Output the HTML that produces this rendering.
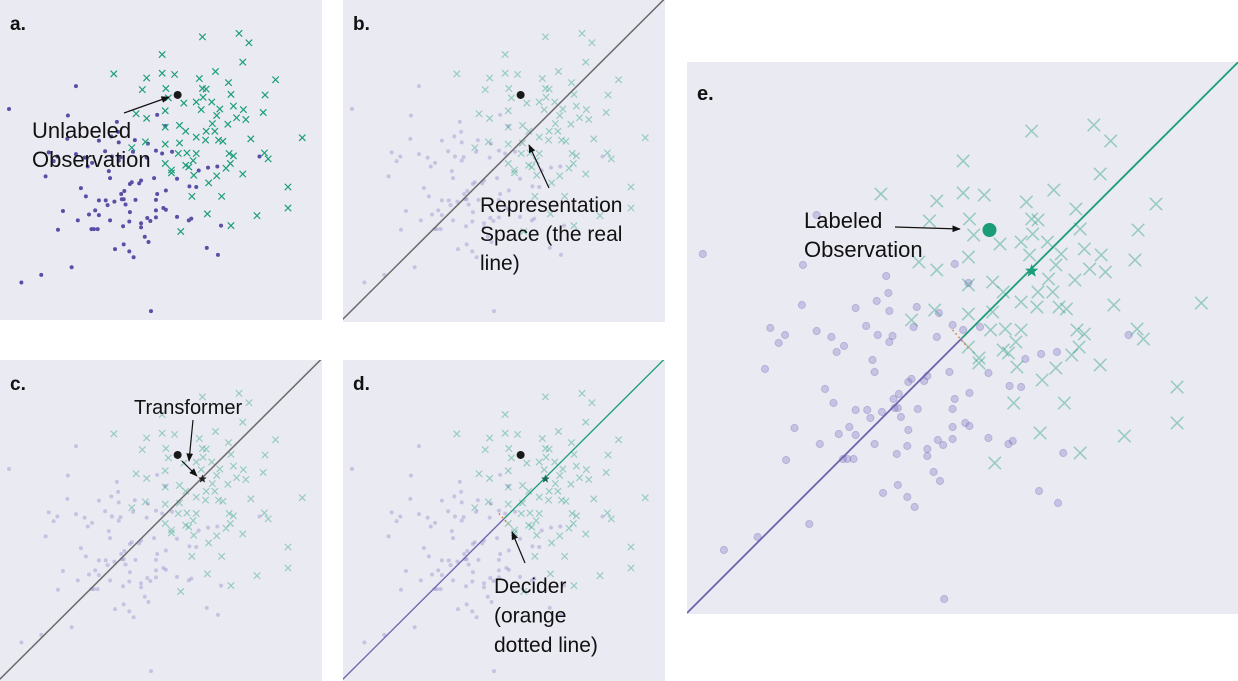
<!DOCTYPE html>
<html><head><meta charset="utf-8">
<style>
html,body{margin:0;padding:0;background:#fff;}
svg{display:block;font-family:"Liberation Sans",Arial,sans-serif;}
</style></head>
<body>
<svg id="fig" width="1238" height="681" viewBox="0 0 1238 681" xmlns="http://www.w3.org/2000/svg">
<defs>
<marker id="ah" viewBox="0 0 10 10" refX="9" refY="5" markerWidth="7" markerHeight="7" orient="auto-start-reverse"><path d="M0,1 L10,5 L0,9 z" fill="#111"/></marker>
</defs>
</svg>
<script>
// data in reference units (panel-e measurement space)
const classAX = [15,110,189,254,267,191,109,160,180,192,218,239,79,93,123,137,170,181,195,215,237,252,262,278,123,87,149,142,192,74,176,178,249,286,321,336,351,419,306,317,210,213,225,228,131,268,201,196,254,139,160,171,185,197,200,219,252,174,203,102,154,210,252,264,268,144,160,238,252,243,286,305,309,126,178,209,228,228,199,94,148,152,158,357,234,240,200,186,209,216,334,352,116,67,35,244];
const classAY = [192,203,214,202,221,231,243,246,239,249,245,251,266,273,269,275,264,273,274,265,275,263,268,265,153,281,284,290,280,307,298,310,310,311,297,292,290,273,324,325,320,317,319,314,327,331,332,337,337,341,348,348,350,346,346,347,347,356,355,366,365,368,365,361,364,372,373,378,377,383,376,382,379,382,382,384,387,394,392,398,397,397,397,391,410,419,423,431,435,445,429,441,462,475,488,537];
const classBX = [327,386,402,262,392,184,262,282,237,322,348,445,369,230,268,327,333,373,428,272,297,317,328,342,220,267,325,355,377,393,425,237,350,382,397,267,290,343,368,300,333,347,317,332,353,360,405,488,235,213,267,290,288,302,317,370,377,427,433,267,277,277,300,305,312,313,350,365,372,392,337,310,358,465,465,335,415,373,292];
const classBY = [69,63,79,99,112,132,131,133,139,140,128,142,147,159,157,157,158,167,168,173,182,180,172,180,200,195,193,192,187,193,198,208,203,207,210,223,220,217,218,230,230,230,240,245,245,247,243,241,248,258,252,250,268,267,268,268,272,267,277,285,296,301,288,291,280,305,306,293,285,303,318,341,341,325,361,371,374,391,401];
const queryPoint = [287,168];
const transformedPoint = [327,209];
const lineStart = [0,551];
const lineEnd = [523,0];
const deciderX = 261;
const deciderSeg = [[252,268],[267,286]];

const NS='http://www.w3.org/2000/svg';
const svg=document.getElementById('fig');
function mk(tag,attrs,parent){const e=document.createElementNS(NS,tag);for(const k in attrs)e.setAttribute(k,attrs[k]);(parent||svg).appendChild(e);return e;}

// axis functions
function smallScale(ox,oy){return {x:v=>0.62*v-0.3+ox, y:v=>0.586*v-3.5+oy};}
function bigScale(){return {x:v=>687+1.054*v, y:v=>62+v};}

const panels=[
 {id:'a',x:0,y:0,w:322,h:320,s:smallScale(0,0),faded:false,line:null},
 {id:'b',x:343,y:0,w:322,h:322,s:smallScale(343,0),faded:true,line:'gray'},
 {id:'c',x:0,y:360,w:322,h:321,s:smallScale(0,360),faded:true,line:'gray',star:'#222'},
 {id:'d',x:343,y:360,w:322,h:321,s:smallScale(343,360),faded:true,line:'split',star:'#156b50'},
 {id:'e',x:687,y:62,w:551,h:552,s:bigScale(),faded:true,line:'split',star:'#1b9e77',big:true},
];

panels.forEach(p=>{
  const g=mk('svg',{x:p.x,y:p.y,width:p.w,height:p.h,viewBox:`${p.x} ${p.y} ${p.w} ${p.h}`,overflow:'hidden'});
  
  
  const bg=mk('rect',{x:p.x,y:p.y,width:p.w,height:p.h,fill:'#eaeaf2'},g);
  
  
  const s=p.s;
  const r=p.big?3.6:2;
  const hs=p.big?6.2:3.2;
  const sw=p.big?1.5:1.2;
  classAX.forEach((v,i)=>{
    const c=mk('circle',{cx:s.x(v),cy:s.y(classAY[i]),r:r,fill:p.faded?'#7b6fc0':'#5b4ea6','fill-opacity':p.faded?0.33:1},g);
    if(p.big){c.setAttribute('stroke','#7b6fc0');c.setAttribute('stroke-opacity','0.35');c.setAttribute('stroke-width','1');}
    
    
  });
  classBX.forEach((v,i)=>{
    const cx=s.x(v),cy=s.y(classBY[i]);
    const m=mk('path',{d:`M${cx-hs},${cy-hs}L${cx+hs},${cy+hs}M${cx-hs},${cy+hs}L${cx+hs},${cy-hs}`,stroke:'#1b9e77','stroke-width':sw,'stroke-opacity':p.faded?0.4:1,fill:'none'},g);
    
    
  });
  if(p.line==='gray'){
    const l=mk('line',{x1:s.x(lineStart[0]),y1:s.y(lineStart[1]),x2:s.x(lineEnd[0]),y2:s.y(lineEnd[1]),stroke:'#6a6a6a','stroke-width':1.5},g);
    
    
  } else if(p.line==='split'){
    const t=(deciderX-lineStart[0])/(lineEnd[0]-lineStart[0]);
    const my=lineStart[1]+t*(lineEnd[1]-lineStart[1]);
    const l1=mk('line',{x1:s.x(lineStart[0]),y1:s.y(lineStart[1]),x2:s.x(deciderX),y2:s.y(my),stroke:'#6d63ad','stroke-width':p.big?1.8:1.3},g);
    
    
    const l2=mk('line',{x1:s.x(deciderX),y1:s.y(my),x2:s.x(lineEnd[0]),y2:s.y(lineEnd[1]),stroke:'#1b9e77','stroke-width':p.big?1.8:1.3},g);
    
    
    const dl=mk('line',{x1:s.x(deciderSeg[0][0]),y1:s.y(deciderSeg[0][1]),x2:s.x(deciderSeg[1][0]),y2:s.y(deciderSeg[1][1]),stroke:'#e0762b','stroke-width':1.5,'stroke-dasharray':'1.5,3'},g);
    
    
  }
  if(p.star){
    const cx=s.x(transformedPoint[0]),cy=s.y(transformedPoint[1]),R=p.big?7:4.5,ri=R*0.42;
    let d='';for(let k=0;k<10;k++){const a=-Math.PI/2+k*Math.PI/5;const rr=k%2?ri:R;d+=(k?'L':'M')+(cx+rr*Math.cos(a)).toFixed(1)+','+(cy+rr*Math.sin(a)).toFixed(1);}
    const st=mk('path',{d:d+'Z',fill:p.star},g);
    
    
  }
  const q=mk('circle',{cx:s.x(queryPoint[0]),cy:s.y(queryPoint[1]),r:p.big?7:4,fill:p.big?'#1b9e77':'#1a1a1a'},g);
  
  
  const lb=mk('text',{x:p.x+10,y:p.y+(p.big?38:30),'font-size':p.big?20:19,'font-weight':'bold',fill:'#111'},g);
  lb.textContent=p.id+'.';
  
  
});

function txt(x,y,size,lines,lh,name){
  const t=mk('text',{x:x,y:y,'font-size':size,fill:'#111'});
  
  
  lines.forEach((s,i)=>{const ts=mk('tspan',{x:x,dy:i?lh:0},t);ts.textContent=s;});
}
function arrow(x1,y1,x2,y2,name){
  const l=mk('line',{x1:x1,y1:y1,x2:x2,y2:y2,stroke:'#111','stroke-width':1.2,'marker-end':'url(#ah)'});
  
  
}
txt(32,138,22,['Unlabeled','Observation'],29,'unlabeled-observation-label');
arrow(124,113,169,97,'unlabeled-arrow');
txt(480,212,21,['Representation','Space (the real','line)'],29,'representation-space-label');
arrow(549,188,529,145,'representation-arrow');
txt(134,414,20,['Transformer'],0,'transformer-label');
arrow(193,420,189,461,'transformer-arrow');
arrow(182,461,197,476,'transform-arrow');
txt(494,593,21,['Decider','(orange','dotted line)'],29.5,'decider-label');
arrow(525,563,512,532,'decider-arrow');
txt(804,228,22,['Labeled','Observation'],29,'labeled-observation-label');
arrow(895,227,960,229,'labeled-arrow');
</script>
</body></html>
